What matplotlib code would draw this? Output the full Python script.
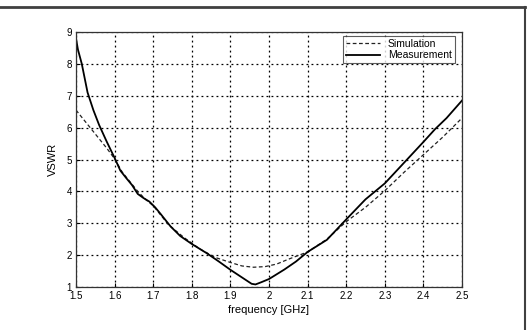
import matplotlib
matplotlib.use("Agg")
import matplotlib.pyplot as plt
from matplotlib.lines import Line2D

plt.rcParams['font.family'] = ['Liberation Sans', 'DejaVu Sans']

meas_f = [1.50, 1.505, 1.515, 1.53, 1.545, 1.56, 1.58, 1.60, 1.615, 1.63, 1.645, 1.66,
          1.675, 1.69, 1.705, 1.72, 1.745, 1.77, 1.80, 1.84, 1.87, 1.90, 1.93, 1.955,
          1.965, 1.98, 2.00, 2.04, 2.07, 2.10, 2.15, 2.20, 2.25, 2.28, 2.30, 2.35,
          2.40, 2.43, 2.46, 2.50]
meas_v = [8.8, 8.45, 8.0, 7.1, 6.55, 6.08, 5.55, 5.05, 4.65, 4.42, 4.2, 3.92,
          3.79, 3.68, 3.5, 3.28, 2.9, 2.6, 2.35, 2.05, 1.8, 1.54, 1.3, 1.1,
          1.08, 1.15, 1.25, 1.55, 1.8, 2.1, 2.48, 3.12, 3.75, 4.05, 4.25, 4.9,
          5.55, 5.95, 6.3, 6.85]

sim_f = [1.50, 1.53, 1.56, 1.58, 1.60, 1.62, 1.64, 1.66, 1.68, 1.70, 1.74, 1.78,
         1.82, 1.86, 1.90, 1.93, 1.96, 1.99, 2.02, 2.05, 2.10, 2.15, 2.20, 2.25,
         2.30, 2.35, 2.40, 2.45, 2.50]
sim_v = [6.55, 6.1, 5.65, 5.35, 5.02, 4.6, 4.3, 4.0, 3.75, 3.55, 2.95, 2.55,
         2.2, 1.93, 1.77, 1.66, 1.62, 1.64, 1.72, 1.87, 2.1, 2.5, 3.05, 3.5,
         4.02, 4.6, 5.15, 5.7, 6.3]

x_ticks = [1.5, 1.6, 1.7, 1.8, 1.9, 2.0, 2.1, 2.2, 2.3, 2.4, 2.5]
x_labels = ['1.5', '1.6', '1.7', '1.8', '1.9', '2', '2.1', '2.2', '2.3', '2.4', '2.5']
y_ticks = [1, 2, 3, 4, 5, 6, 7, 8, 9]

fig = plt.figure(figsize=(5.3, 3.3), dpi=100)
ax = fig.add_axes([76/530, 1-287/330, (462-76)/530, (287-32)/330])

ax.plot(sim_f, sim_v, color='#222222', lw=0.9, ls=(0, (3, 2)), label='Simulation')
ax.plot(meas_f, meas_v, color='black', lw=1.3, label='Measurement')

ax.set_xlim(1.5, 2.5)
ax.set_ylim(1, 9)
ax.set_xticks(x_ticks)
ax.set_xticklabels(x_labels)
ax.set_yticks(y_ticks)
ax.tick_params(direction='in', length=3, labelsize=7, width=0.8)
ax.tick_params(axis='x', pad=3)
ax.tick_params(axis='y', pad=3)
ax.grid(True, color='black', ls=(0, (1.5, 2.5)), lw=0.9)
for s in ax.spines.values():
    s.set_linewidth(0.9)
    s.set_color('#333333')

ax.set_xlabel('frequency [GHz]', fontsize=8, labelpad=3)
ax.set_ylabel('VSWR', fontsize=8, labelpad=6)

leg = ax.legend(loc='upper right', bbox_to_anchor=((455-76)/386, (287-36)/255), fontsize=7.5,
                frameon=True, fancybox=False, edgecolor='#333333',
                handlelength=3.2, borderpad=0.3, labelspacing=0.1,
                handletextpad=0.8, borderaxespad=0.0)
leg.get_frame().set_linewidth(0.8)

# outer frame lines
fig.add_artist(Line2D([0, 525/530], [1-7/330, 1-7/330], transform=fig.transFigure,
                      color='#404040', lw=2))
fig.add_artist(Line2D([525/530, 525/530], [1-7/330, 0], transform=fig.transFigure,
                      color='#404040', lw=1.5))

fig.savefig('out.png', dpi=100)
